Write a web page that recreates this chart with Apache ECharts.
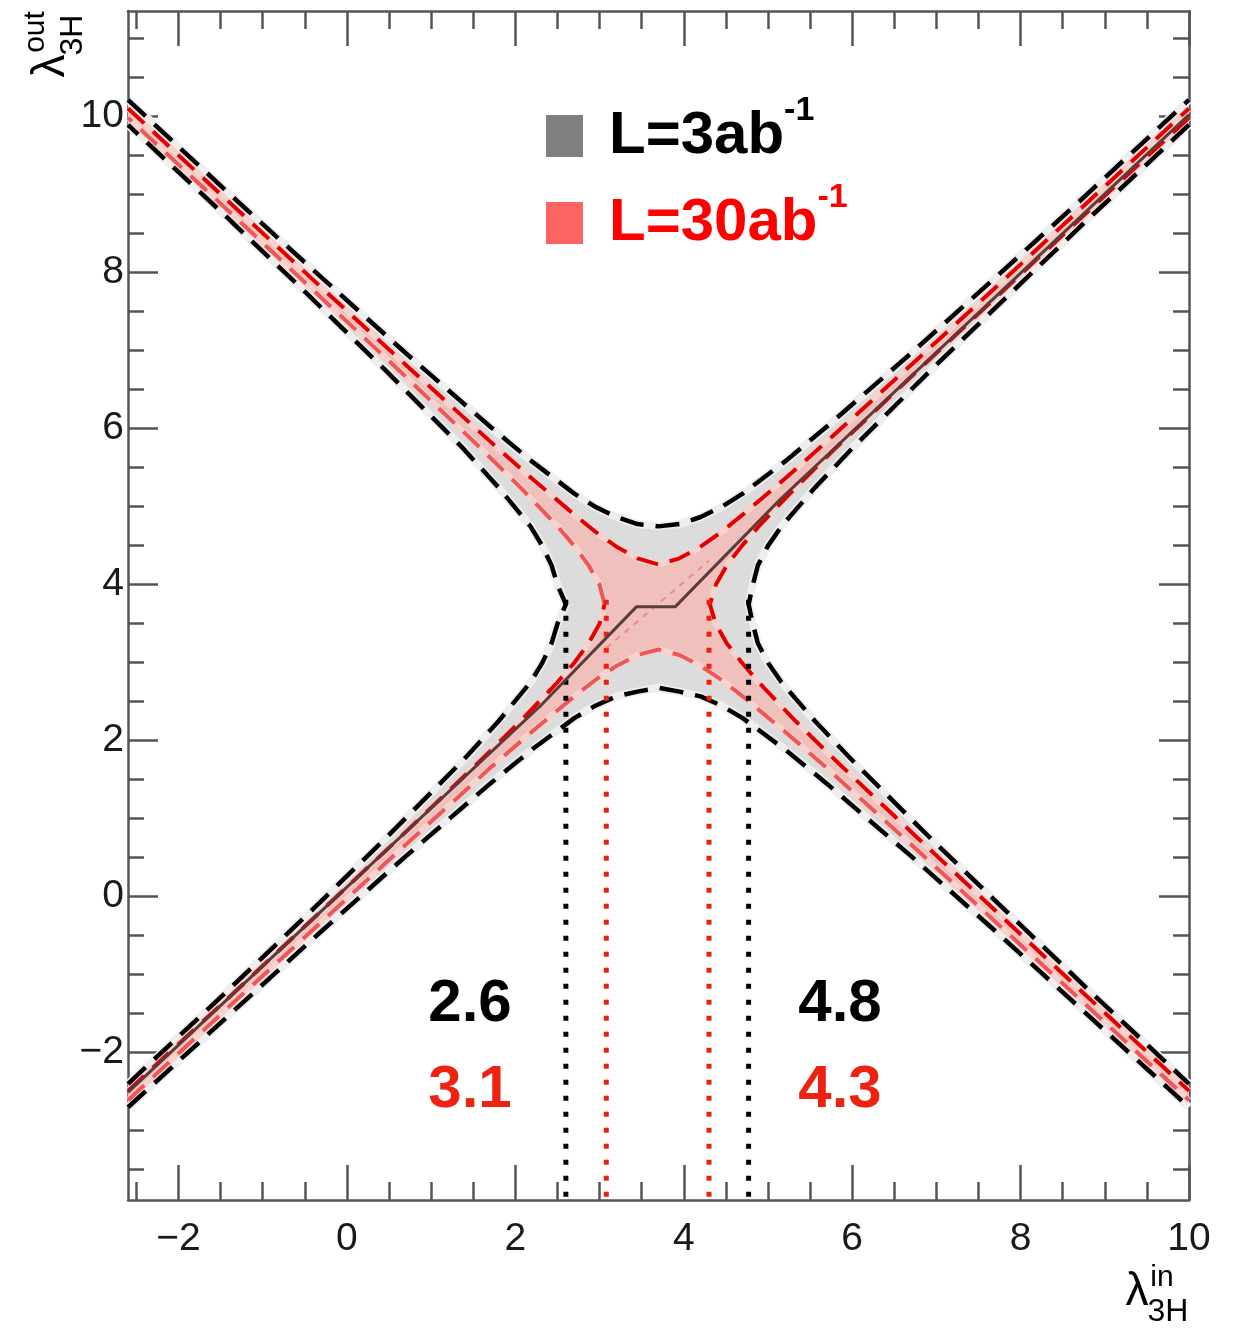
<!DOCTYPE html>
<html><head><meta charset="utf-8">
<script src="https://cdn.jsdelivr.net/npm/echarts@6/dist/echarts.min.js"></script>
<style>html,body{margin:0;padding:0;background:#fff}#c{width:1236px;height:1331px}</style>
</head><body><div id="c"></div>
<script>
// ---- axis ticks ----
const xMajorTicks = [-2, 0, 2, 4, 6, 8, 10];
const xMinorTicks = [-2.5, -1.5, -1, -0.5, 0.5, 1, 1.5, 2.5, 3, 3.5, 4.5, 5, 5.5, 6.5, 7, 7.5, 8.5, 9, 9.5];
const yMajorTicks = [-2, 0, 2, 4, 6, 8, 10];
const yMinorTicks = [-3.5, -3, -2.5, -1.5, -1, -0.5, 0.5, 1, 1.5, 2.5, 3, 3.5, 4.5, 5, 5.5, 6.5, 7, 7.5, 8.5, 9, 9.5, 10.5, 11];
const xRange = [-2.6, 10];
const yRange = [-3.9, 11.35];

// ---- L = 3 ab^-1 contour (black) ----
const black3Top = [[-2.6,10.21],[-1.3,8.91],[-0.3,7.93],[0.7,6.96],[1.7,6.02],[2.2,5.57],[2.7,5.16],[2.95,4.99],[3.2,4.86],[3.45,4.77],[3.7,4.74],[3.95,4.77],[4.2,4.86],[4.45,4.99],[4.7,5.16],[5.2,5.57],[5.7,6.02],[6.7,6.96],[7.7,7.93],[8.7,8.91],[10,10.21]];
const black3Right = [[10,9.89],[8.86,8.74],[7.89,7.74],[6.93,6.74],[6.0,5.74],[5.56,5.24],[5.16,4.74],[5.0,4.49],[4.88,4.24],[4.82,3.99],[4.77,3.74],[4.82,3.49],[4.88,3.24],[5.0,2.99],[5.16,2.74],[5.56,2.24],[6.0,1.74],[6.93,0.74],[7.89,-0.26],[8.86,-1.26],[10,-2.41]];
const black3Bottom = [[-2.6,-2.71],[-1.3,-1.43],[-0.3,-0.45],[0.7,0.51],[1.7,1.44],[2.2,1.88],[2.7,2.28],[2.95,2.44],[3.2,2.56],[3.45,2.62],[3.7,2.67],[3.95,2.62],[4.2,2.56],[4.45,2.44],[4.7,2.28],[5.2,1.88],[5.7,1.44],[6.7,0.51],[7.7,-0.45],[8.7,-1.43],[10,-2.71]];
const black3Left = [[-2.6,-2.41],[-1.46,-1.26],[-0.49,-0.26],[0.46,0.74],[1.38,1.74],[1.8,2.24],[2.18,2.74],[2.32,2.99],[2.43,3.24],[2.5,3.49],[2.6,3.74],[2.5,3.99],[2.43,4.24],[2.32,4.49],[2.18,4.74],[1.8,5.24],[1.38,5.74],[0.46,6.74],[-0.49,7.74],[-1.46,8.74],[-2.6,9.89]];

// ---- L = 30 ab^-1 contour (red) ----
const red30Top = [[-2.6,10.1],[-1.3,8.8],[-0.3,7.8],[0.7,6.81],[1.7,5.83],[2.2,5.35],[2.7,4.89],[2.95,4.67],[3.2,4.48],[3.45,4.33],[3.7,4.25],[3.95,4.33],[4.2,4.48],[4.45,4.67],[4.7,4.89],[5.2,5.35],[5.7,5.83],[6.7,6.81],[7.7,7.8],[8.7,8.8],[10,10.1]];
const red30Right = [[10,9.98],[8.76,8.74],[7.77,7.74],[6.78,6.74],[5.8,5.74],[5.33,5.24],[4.89,4.74],[4.69,4.49],[4.51,4.24],[4.38,3.99],[4.31,3.74],[4.38,3.49],[4.51,3.24],[4.69,2.99],[4.89,2.74],[5.33,2.24],[5.8,1.74],[6.78,0.74],[7.77,-0.26],[8.76,-1.26],[10,-2.5]];
const red30Bottom = [[-2.6,-2.62],[-1.3,-1.32],[-0.3,-0.33],[0.7,0.66],[1.7,1.64],[2.2,2.11],[2.7,2.56],[2.95,2.77],[3.2,2.95],[3.45,3.09],[3.7,3.16],[3.95,3.09],[4.2,2.95],[4.45,2.77],[4.7,2.56],[5.2,2.11],[5.7,1.64],[6.7,0.66],[7.7,-0.33],[8.7,-1.32],[10,-2.62]];
const red30Left = [[-2.6,-2.5],[-1.36,-1.26],[-0.37,-0.26],[0.62,0.74],[1.59,1.74],[2.06,2.24],[2.5,2.74],[2.7,2.99],[2.87,3.24],[3.0,3.49],[3.06,3.74],[3.0,3.99],[2.87,4.24],[2.7,4.49],[2.5,4.74],[2.06,5.24],[1.59,5.74],[0.62,6.74],[-0.37,7.74],[-1.36,8.74],[-2.6,9.98]];

// ---- best-fit line and diagonal ----
const centralLine = [[-2.6,-2.52],[2.29,2.43],[3.44,3.71],[3.9,3.71],[5.14,5.08],[10,10.02]];
const redDiagonal = [[3.08,3.18],[4.3,4.3]];

// ---- bounds ----
const black3Bounds = [2.6, 4.77];
const red30Bounds = [3.08, 4.3];
const boundTopY = 3.8;
const black3BoundLabels = ['2.6', '4.8'];
const red30BoundLabels = ['3.1', '4.3'];
const legendNames = ['L=3ab-1', 'L=30ab-1'];

const FONT = '"Liberation Sans", Arial, Helvetica, sans-serif';
const AX = '#555';

function polygonOf(top, right, bottom, left) {
  return top.concat(right, bottom.slice().reverse(), left);
}
function polySeries(name, pts, color, z) {
  return {
    type: 'custom', name: name, coordinateSystem: 'cartesian2d', clip: true, silent: true, z: z,
    data: [[0, 0]],
    itemStyle: { color: color },
    renderItem: function (params, api) {
      return { type: 'polygon', shape: { points: pts.map(p => api.coord(p)) }, style: { fill: color } };
    }
  };
}
function lineSeries(data, color, width, type, z) {
  return {
    type: 'line', data: data, symbol: 'none', silent: true, z: z, clip: true,
    lineStyle: { color: color, width: width, type: type, cap: 'butt' }
  };
}

const minus = v => (v < 0 ? '\u2212' + Math.abs(v) : String(v));

const xAxes = [
  { position: 'bottom', major: true, labels: true },
  { position: 'bottom', major: false },
  { position: 'top', major: true },
  { position: 'top', major: false }
].map(a => ({
  type: 'value', position: a.position, min: xRange[0], max: xRange[1],
  axisLine: { show: a.major, onZero: false, lineStyle: { color: AX, width: 2.5 } },
  axisTick: { show: true, inside: true, length: a.major ? 35 : 18, customValues: a.major ? xMajorTicks : xMinorTicks, lineStyle: { color: AX, width: 2.5 } },
  axisLabel: { show: !!a.labels, customValues: xMajorTicks, formatter: minus, fontFamily: FONT, fontSize: 39, color: '#1a1a1a', margin: 20 },
  splitLine: { show: false }
}));
const yAxes = [
  { position: 'left', major: true, labels: true },
  { position: 'left', major: false },
  { position: 'right', major: true },
  { position: 'right', major: false }
].map(a => ({
  type: 'value', position: a.position, min: yRange[0], max: yRange[1],
  axisLine: { show: a.major, onZero: false, lineStyle: { color: AX, width: 2.5 } },
  axisTick: { show: true, inside: true, length: a.major ? 30 : 16, customValues: a.major ? yMajorTicks : yMinorTicks, lineStyle: { color: AX, width: 2.5 } },
  axisLabel: { show: !!a.labels, customValues: yMajorTicks, formatter: minus, fontFamily: FONT, fontSize: 39, color: '#1a1a1a', margin: 4 },
  splitLine: { show: false }
}));

const BLK_DASH = [24, 12];
const RED_DASH = [22, 12];
const DARK_RED = '#e30000';
const LIGHT_RED = '#ee5757';

const series = [
  polySeries(legendNames[0], polygonOf(black3Top, black3Right, black3Bottom, black3Left), '#dcdcdc', 1),
  polySeries(legendNames[1], polygonOf(red30Top, red30Right, red30Bottom, red30Left), '#f0c0bc', 2)
];
// underlay halos
[black3Top, black3Right, black3Bottom, black3Left].forEach(c => series.push(lineSeries(c, '#efefef', 8, 'solid', 3)));
[red30Top, red30Right, red30Bottom, red30Left].forEach(c => series.push(lineSeries(c, '#f7d3cf', 6, 'solid', 3)));
// dashed contours
[black3Top, black3Right, black3Bottom, black3Left].forEach(c => series.push(lineSeries(c, '#000', 4.5, BLK_DASH, 4)));
const leftMid = Math.floor(red30Left.length / 2);
series.push(lineSeries(red30Top, DARK_RED, 4, RED_DASH, 5));
series.push(lineSeries(red30Left.slice(0, leftMid + 1), DARK_RED, 4, RED_DASH, 5));
series.push(lineSeries(red30Left.slice(leftMid), LIGHT_RED, 4, RED_DASH, 5));
series.push(lineSeries(red30Bottom, LIGHT_RED, 4, RED_DASH, 5));
series.push(lineSeries(red30Right, DARK_RED, 4, RED_DASH, 5));
// dotted bound lines
black3Bounds.forEach(x => series.push(lineSeries([[x, boundTopY], [x, yRange[0]]], '#000', 5, [5, 11], 6)));
red30Bounds.forEach(x => series.push(lineSeries([[x, boundTopY], [x, yRange[0]]], '#f01e0a', 5, [5, 11], 6)));
// diagonals
series.push(lineSeries(redDiagonal, '#f08a8a', 2, [6, 6], 6));
series.push(lineSeries(centralLine, '#5e3a3a', 3, 'solid', 7));

const chart = echarts.init(document.getElementById('c'), null, { renderer: 'canvas' });

function txt(x, y, s, size, color, weight, rot) {
  return { type: 'text', x: x, y: y, rotation: rot || 0, silent: true, z: 100,
    style: { text: s, fontFamily: FONT, fontSize: size, fontWeight: weight || 'normal', fill: color, align: 'center', verticalAlign: 'middle' } };
}
const R90 = Math.PI / 2;

chart.setOption({
  animation: false,
  backgroundColor: '#fff',
  grid: { left: 128, right: 47, top: 11, bottom: 131, containLabel: false },
  xAxis: xAxes,
  yAxis: yAxes,
  legend: {
    orient: 'vertical', left: 541, top: 89, itemWidth: 37, itemHeight: 42, itemGap: 15,
    selectedMode: false, icon: 'rect',
    data: [
      { name: legendNames[0], itemStyle: { color: '#7f7f7f' }, textStyle: { color: '#000' } },
      { name: legendNames[1], itemStyle: { color: '#ff6464' }, textStyle: { color: '#ff0000' } }
    ],
    formatter: function (n) {
      const base = n.replace('-1', '');
      return '{g|}{m|' + base + '}{s|-1}';
    },
    textStyle: {
      fontFamily: FONT, fontWeight: 'bold', fontSize: 60,
      rich: {
        g: { width: 21 },
        m: { fontFamily: FONT, fontWeight: 'bold', fontSize: 60, lineHeight: 84 },
        s: { fontFamily: FONT, fontWeight: 'bold', fontSize: 34, verticalAlign: 'top', lineHeight: 40 }
      }
    }
  },
  graphic: [
    txt(1137, 1292, 'λ', 46, '#000'),
    txt(1162, 1278, 'in', 30, '#000'),
    txt(1168, 1312, '3H', 32, '#000'),
    txt(51, 66, 'λ', 46, '#000', 'normal', R90),
    txt(36, 32, 'out', 30, '#000', 'normal', R90),
    txt(73, 35, '3H', 32, '#000', 'normal', R90),
    txt(470, 1004, black3BoundLabels[0], 60, '#000', 'bold'),
    txt(470, 1090, red30BoundLabels[0], 60, '#ee2211', 'bold'),
    txt(840, 1004, black3BoundLabels[1], 60, '#000', 'bold'),
    txt(840, 1090, red30BoundLabels[1], 60, '#ee2211', 'bold')
  ],
  series: series
});
</script>
</body></html>
